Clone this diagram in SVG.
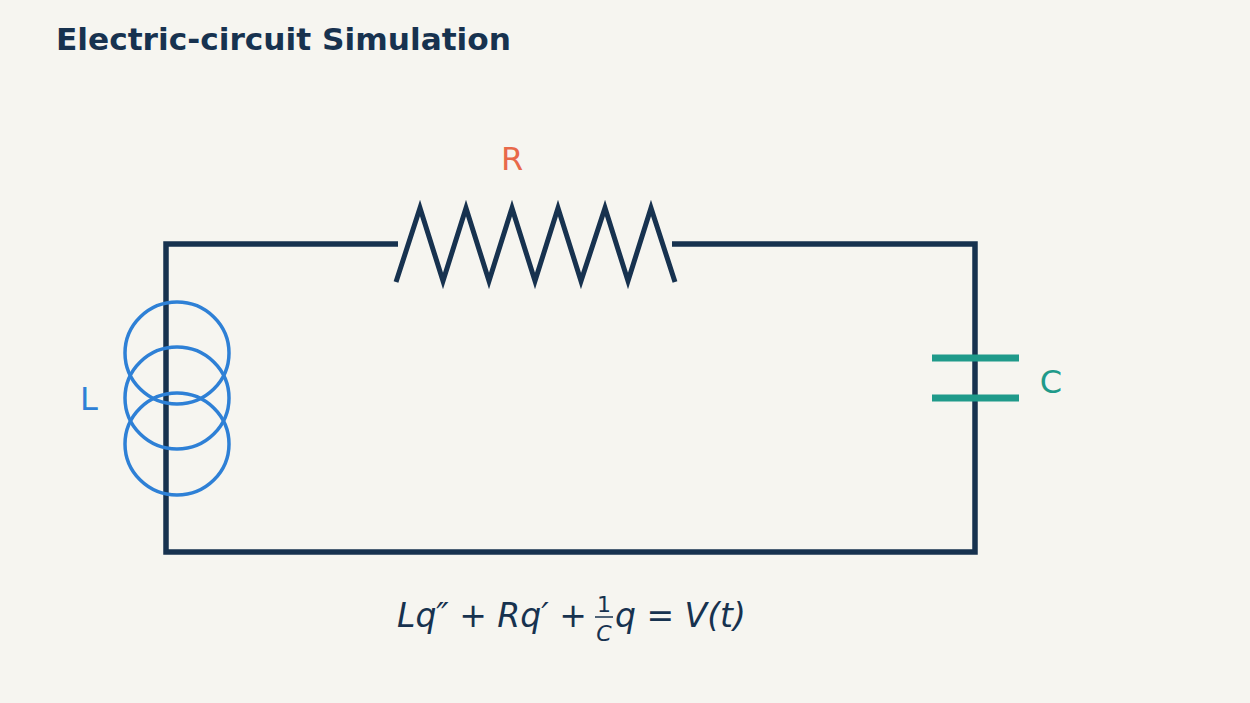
<svg xmlns="http://www.w3.org/2000/svg" width="1250" height="703" viewBox="0 0 1250 703">
<style>
.w{fill:none;stroke:#17324f;stroke-width:5.5}
.t{font-family:"DejaVu Sans",sans-serif}
.m{font-family:"DejaVu Sans",sans-serif;font-style:italic;fill:#17324f}
.n{font-family:"DejaVu Sans",sans-serif;fill:#17324f}
</style>
<rect width="1250" height="703" fill="#f6f5f0"/>
<text x="56" y="50" class="t" font-size="30" font-weight="bold" fill="#17324f" textLength="455" lengthAdjust="spacingAndGlyphs">Electric-circuit Simulation</text>
<g id="wires">
<polyline class="w" points="398,244 166,244 166,552 975,552 975,244 672,244"/>
</g>
<g id="resistor">
<polyline points="396,282 420,208 443,281 466,208 489,281 512,208 535,281 558,208 581,281 605,208 628,281 651,208 675,282" fill="none" stroke="#17324f" stroke-width="5" stroke-linejoin="miter"/>
<text x="512" y="170" class="t" font-size="32" fill="#e8694a" text-anchor="middle">R</text>
</g>
<g id="inductor" fill="none" stroke="#2e80d6" stroke-width="3.5">
<ellipse cx="177" cy="353" rx="52" ry="51"/>
<ellipse cx="177" cy="398" rx="52" ry="51"/>
<ellipse cx="177" cy="444" rx="52" ry="51"/>
<text x="89" y="410" class="t" font-size="32" fill="#2e80d6" stroke="none" text-anchor="middle">L</text>
</g>
<g id="capacitor">
<line x1="932" y1="358" x2="1019" y2="358" stroke="#1f9a8a" stroke-width="7"/>
<line x1="932" y1="398" x2="1019" y2="398" stroke="#1f9a8a" stroke-width="7"/>
<text x="1051" y="393" class="t" font-size="32" fill="#1f9a8a" text-anchor="middle">C</text>
</g>
<g id="equation">
<text x="397" y="627" class="m" font-size="33">Lq″ + Rq′ + </text>
<text x="604" y="612" class="n" font-size="22" text-anchor="middle">1</text>
<line x1="595" y1="617" x2="613" y2="617" stroke="#17324f" stroke-width="1.5"/>
<text x="604" y="641" class="m" font-size="22" text-anchor="middle">C</text>
<text x="615" y="627" class="m" font-size="33">q = V(t)</text>
</g>
</svg>
